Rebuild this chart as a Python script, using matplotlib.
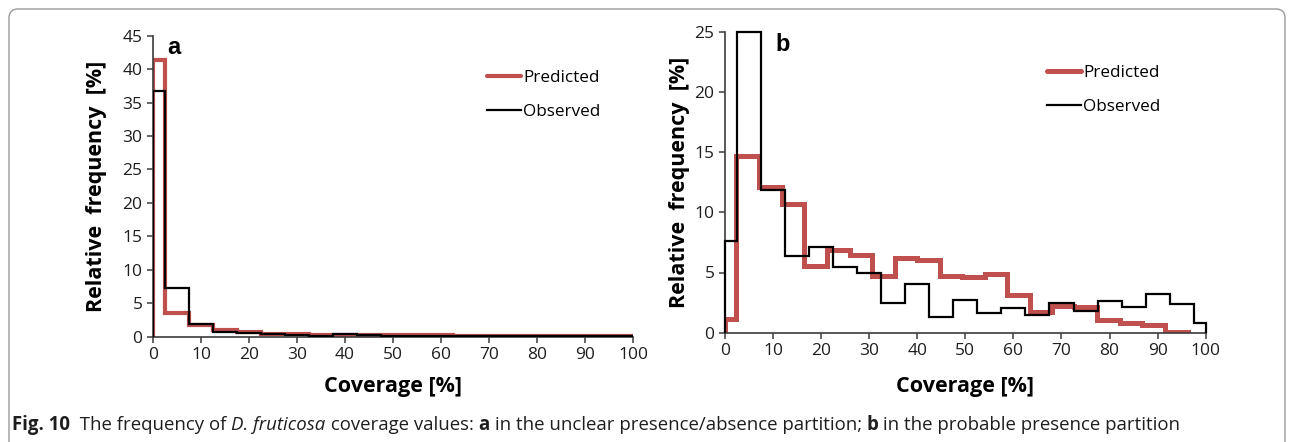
import matplotlib
matplotlib.use("Agg")
import matplotlib.pyplot as plt
from matplotlib.lines import Line2D
from matplotlib.patches import FancyBboxPatch
from matplotlib.transforms import IdentityTransform

# ---- data (relative frequency [%] per coverage class) ----
edges_obs = [0, 2.5, 7.5, 12.5, 17.5, 22.5, 27.5, 32.5, 37.5, 42.5, 47.5, 52.5,
             57.5, 62.5, 67.5, 72.5, 77.5, 82.5, 87.5, 92.5, 97.5, 100]

# panel a: unclear presence/absence partition
pred_a = [41.4, 3.6, 1.8, 1.0, 0.65, 0.45, 0.35, 0.3, 0.3, 0.25, 0.2,
          0.2, 0.2, 0.15, 0.1, 0.1, 0.1, 0.1, 0.1, 0.1, 0.05]
obs_a = [36.7, 7.3, 1.85, 0.65, 0.5, 0.4, 0.3, 0.1, 0.35, 0.2, 0.15,
         0.15, 0.1, 0.05, 0.05, 0.05, 0.05, 0.05, 0.1, 0.05, 0.05]

# panel b: probable presence partition (predicted steps sit slightly off the observed ones)
edges_pred_b = [0, 2.3, 7.0, 11.8, 16.5, 21.3, 25.9, 30.6, 35.3, 40.0, 44.7,
                49.3, 54.0, 58.7, 63.4, 68.0, 72.7, 77.3, 82.1, 86.7, 91.5, 96.3]
pred_b = [1.1, 14.7, 12.1, 10.7, 5.5, 6.85, 6.45, 4.75, 6.2, 6.05, 4.72,
          4.6, 4.87, 3.1, 1.68, 2.2, 2.1, 1.05, 0.83, 0.6, 0.05]
obs_b = [7.6, 25, 11.85, 6.35, 7.15, 5.45, 4.95, 2.49, 4.04, 1.33, 2.72,
         1.66, 2.08, 1.47, 2.44, 1.83, 2.66, 2.1, 3.19, 2.36, 0.83]

x_ticks = list(range(0, 101, 10))
y_ticks_a = list(range(0, 46, 5))
y_ticks_b = list(range(0, 26, 5))

RED = "#c0504d"
AX_COL = "#3c3c3c"
FONT = ["Open Sans", "DejaVu Sans"]

W, H = 1293, 442
fig = plt.figure(figsize=(W / 100, H / 100), dpi=100)
fig.patch.set_facecolor("white")


def rect(x0, y0, x1, y1):
    # pixel box measured from the top-left -> figure fraction
    return [x0 / W, 1 - y1 / H, (x1 - x0) / W, (y1 - y0) / H]


# outer rounded frame (bottom runs off the image)
frame = FancyBboxPatch((9, -30), 1276, 30 + (H - 9), boxstyle="round,pad=0,rounding_size=9",
                       transform=IdentityTransform(), fill=False, ec="#9a9a9a", lw=1.0)
fig.patches.append(frame)


def style_axes(ax, yticks, ymax):
    ax.set_xlim(0, 100)
    ax.set_ylim(0, ymax)
    ax.set_xticks(x_ticks)
    ax.set_yticks(yticks)
    for s in ["top", "right"]:
        ax.spines[s].set_visible(False)
    for s in ["left", "bottom"]:
        ax.spines[s].set_color(AX_COL)
        ax.spines[s].set_linewidth(1.2)
    ax.tick_params(direction="out", length=4.5, width=1.1, color=AX_COL,
                   labelsize=12.5, labelcolor="#1e1e1e", pad=3)
    for lab in ax.get_xticklabels() + ax.get_yticklabels():
        lab.set_family(FONT)
    ax.set_xlabel("Coverage [%]", fontsize=15.5, fontweight="bold", family=FONT)
    ax.set_ylabel("Relative  frequency  [%]", fontsize=15.5, fontweight="bold", family=FONT)


def add_legend(ax, x, y, lw_red):
    handles = [Line2D([], [], color=RED, lw=lw_red, solid_capstyle="round"),
               Line2D([], [], color="black", lw=1.6)]
    ax.legend(handles, ["Predicted", "Observed"], loc="upper left", bbox_to_anchor=(x, y),
              frameon=False, handlelength=2.0, handletextpad=0.1, labelspacing=1.05,
              borderpad=0, borderaxespad=0, prop={"family": FONT, "size": 12.3})


# ---- panel a ----
ax1 = fig.add_axes(rect(153, 35.7, 633, 336.7))
ax1.stairs(pred_a, edges_obs, color=RED, lw=3.0, zorder=2)
ax1.stairs(obs_a, edges_obs, color="black", lw=1.6, zorder=3)
style_axes(ax1, y_ticks_a, 45)
ax1.yaxis.set_label_coords(-0.096, 0.5)
ax1.xaxis.set_label_coords(0.5, -0.13)
add_legend(ax1, 0.696, 0.885, 3.0)
ax1.text(0.029, 0.94, "a", transform=ax1.transAxes, fontsize=17, fontweight="bold",
         family=["Liberation Sans", "DejaVu Sans"], va="baseline")

# ---- panel b ----
ax2 = fig.add_axes(rect(725, 31.7, 1205.7, 332.7))
ax2.stairs(pred_b, edges_pred_b, color=RED, lw=3.6, zorder=2)
ax2.stairs(obs_b, edges_obs, color="black", lw=1.6, zorder=3, clip_on=False)
style_axes(ax2, y_ticks_b, 25)
ax2.yaxis.set_label_coords(-0.073, 0.5)
ax2.xaxis.set_label_coords(0.5, -0.144)
add_legend(ax2, 0.67, 0.89, 3.6)
ax2.text(0.104, 0.935, "b", transform=ax2.transAxes, fontsize=17, fontweight="bold",
         family=["Liberation Sans", "DejaVu Sans"], va="baseline")

# ---- caption, built from styled pieces laid end to end ----
cap_font = ["DejaVu Sans Condensed", "Open Sans", "DejaVu Sans"]
pieces = [("Fig. 10", "bold", "normal"),
          ("  The frequency of ", "normal", "normal"),
          ("D. fruticosa", "normal", "italic"),
          (" coverage values: ", "normal", "normal"),
          ("a", "bold", "normal"),
          (" in the unclear presence/absence partition; ", "normal", "normal"),
          ("b", "bold", "normal"),
          (" in the probable presence partition", "normal", "normal")]

cap_size = 13.4
texts = []
for txt, wt, st in pieces:
    texts.append(fig.text(0, 0, txt, fontsize=cap_size, fontweight=wt, style=st,
                          family=cap_font, va="baseline", color="#1e1e1e",
                          transform=IdentityTransform()))

# lay the pieces one after another using their measured widths
renderer = fig.canvas.get_renderer()
x_px = 12
for t in texts:
    t.set_position((x_px, H - 430))
    x_px = t.get_window_extent(renderer).x1

fig.savefig("out.png", dpi=100)
